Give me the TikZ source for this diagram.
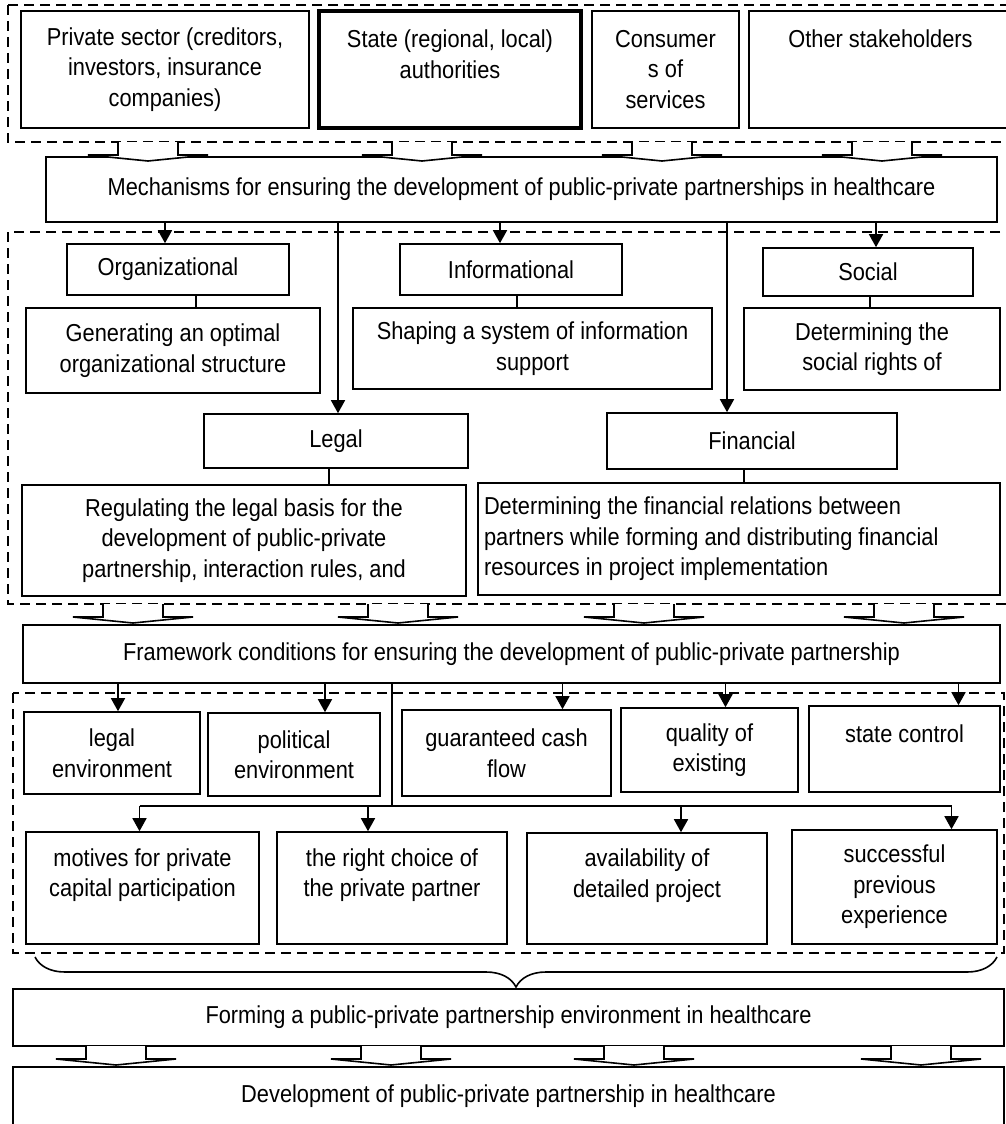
\documentclass[tikz,border=0pt]{standalone}
\usepackage{fontspec}
\setmainfont{Liberation Sans}[FakeStretch=0.89]
\usetikzlibrary{arrows.meta, decorations.pathreplacing}

\begin{document}
\begin{tikzpicture}[x=1pt, y=-1pt, >={Triangle[length=13pt,width=14pt]},
    box/.style={draw, line width=1.6pt, align=center, inner sep=6pt,
        font=\fontsize{24.5}{30.5}\selectfont},
    group/.style={draw, line width=1.6pt, dash pattern=on 10pt off 6pt},
    link/.style={line width=1.6pt},
    blockarr/.style={draw, fill=white, line width=1.6pt}]
    \useasboundingbox (0,0) rectangle (1006,1124);

    \draw[group] (8,5) rectangle (1012,142);
    \draw[group] (8,232) rectangle (1012,604);
    \draw[group] (13,693) rectangle (1004,953);

    \node[box, minimum width=288, minimum height=117] (priv) at (165,69.5) {Private sector (creditors,\\investors, insurance\\companies)};
    \node[box, line width=3.2pt, minimum width=262, minimum height=117] (state) at (450,69.5) {State (regional, local)\\authorities\\~};
    \node[box, minimum width=147, minimum height=117] (cons) at (665.5,69.5) {Consumer\\s of\\services};
    \node[box, minimum width=263, minimum height=117] (other) at (880.5,69.5) {Other stakeholders\\~\\~};

    \node[box, minimum width=951, minimum height=65] (mech) at (521.5,189.5) {Mechanisms for ensuring the development of public-private partnerships in healthcare};

    \node[box, minimum width=222, minimum height=51] (org) at (178,269.5) {Organizational\hspace{20pt}};
    \node[box, minimum width=294, minimum height=85] (gen) at (173,350.5) {Generating an optimal\\organizational structure};
    \node[box, minimum width=222, minimum height=51] (info) at (511,269.5) {Informational};
    \node[box, minimum width=359, minimum height=81] (shape) at (532.5,348.5) {Shaping a system of information\\support};
    \node[box, minimum width=210, minimum height=48] (social) at (868,272) {Social};
    \node[box, minimum width=256, minimum height=82] (dets) at (872,349) {Determining the\\social rights of};
    \node[box, minimum width=264, minimum height=54] (legal) at (336,441) {Legal};
    \node[box, minimum width=444, minimum height=111] (reg) at (244,540.5) {Regulating the legal basis for the\\development of public-private\\partnership, interaction rules, and};
    \node[box, minimum width=290, minimum height=56] (fin) at (752,441) {Financial};
    \node[box, align=flush left, text width=510pt, minimum height=112] (detf) at (739,539) {Determining the financial relations between\\partners while forming and distributing financial\\resources in project implementation};

    \node[box, minimum width=977, minimum height=58] (frame) at (511.5,654) {Framework conditions for ensuring the development of public-private partnership};

    \node[box, minimum width=176, minimum height=82] (lenv) at (112,753) {legal\\environment};
    \node[box, minimum width=172, minimum height=83] (penv) at (294,754.5) {political\\environment};
    \node[box, minimum width=209, minimum height=86] (gcf) at (506.5,753) {guaranteed cash\\flow};
    \node[box, minimum width=177, minimum height=84] (qual) at (709.5,750) {quality of\\existing};
    \node[box, minimum width=191, minimum height=86] (sctl) at (904.5,749) {state control\\~};

    \node[box, minimum width=233, minimum height=112] (mot) at (142.5,888) {motives for private\\capital participation\\~};
    \node[box, minimum width=230, minimum height=112] (rch) at (392,888) {the right choice of\\the private partner\\~};
    \node[box, minimum width=240, minimum height=111] (avail) at (647,888.5) {availability of\\detailed project\\~};
    \node[box, minimum width=205, minimum height=114] (succ) at (894.5,887) {successful\\previous\\experience};

    \node[box, minimum width=991, minimum height=57] (form) at (508.5,1017.5) {Forming a public-private partnership environment in healthcare};
    \node[box, minimum width=991, minimum height=58] (dev) at (508.5,1096) {Development of public-private partnership in healthcare};

    \foreach \n/\dx in {org/-13, legal/2, info/-11, fin/-25, social/8}
        \draw[link,->] ([xshift=\dx]\n.north |- mech.south) -- ([xshift=\dx]\n.north);
    \foreach \a/\b/\dx in {org/gen/18, info/shape/6, social/dets/2, legal/reg/-7, fin/detf/-8}
        \draw[link] ([xshift=\dx]\a.south) -- ([xshift=\dx]\a.south |- \b.north);

    \foreach \n/\dx in {lenv/6, penv/31, gcf/56, qual/16, sctl/54}
        \draw[link,->] ([xshift=\dx]\n.north |- frame.south) -- ([xshift=\dx]\n.north);
    \coordinate (bus) at (392,806);
    \draw[link] (frame.south -| bus) -- (bus);
    \draw[link] ([xshift=-3]mot.north |- bus) -- ([xshift=57]succ.north |- bus);
    \foreach \n/\dx in {mot/-3, rch/-24, avail/34, succ/57}
        \draw[link,->] ([xshift=\dx]\n.north |- bus) -- ([xshift=\dx]\n.north);

    \draw[link, decorate, decoration={brace, mirror, amplitude=30pt}] (35,957) -- (997,957);

    \foreach \cx/\ty in {148/142, 422/142, 662/142, 882/142, 133/604, 398/604, 644/604, 904/604, 116/1046, 391/1046, 634/1046, 921/1046}
        \draw[blockarr] (\cx-30,\ty) -- (\cx-30,\ty+13) -- (\cx-60,\ty+13) -- (\cx,\ty+19) -- (\cx+60,\ty+13) -- (\cx+30,\ty+13) -- (\cx+30,\ty);
\end{tikzpicture}
\end{document}
